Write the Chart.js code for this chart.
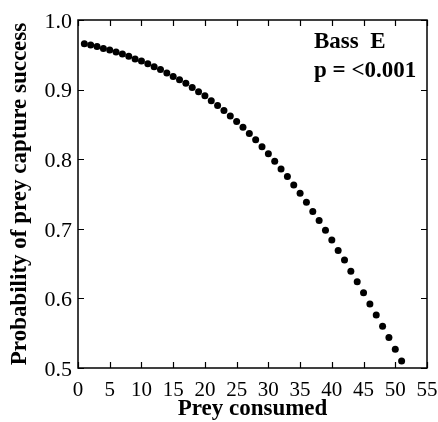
<!DOCTYPE html>
<html><head><meta charset="utf-8">
<script src="https://cdn.jsdelivr.net/npm/chart.js@4/dist/chart.umd.min.js"></script>
<style>html,body{margin:0;padding:0;background:#fff;}#wrap{width:438px;height:422px;}</style>
</head><body><div id="wrap"><canvas id="c" width="438" height="422"></canvas></div>
<script>
const preyConsumed = [1,2,3,4,5,6,7,8,9,10,11,12,13,14,15,16,17,18,19,20,21,22,23,24,25,26,27,28,29,30,31,32,33,34,35,36,37,38,39,40,41,42,43,44,45,46,47,48,49,50,51];
const captureProb = [0.966,0.964,0.962,0.959,0.957,0.954,0.951,0.948,0.944,0.941,0.937,0.933,0.929,0.924,0.919,0.914,0.909,0.903,0.897,0.891,0.884,0.877,0.870,0.862,0.854,0.846,0.837,0.828,0.818,0.808,0.797,0.786,0.775,0.763,0.751,0.738,0.725,0.712,0.698,0.684,0.669,0.655,0.639,0.624,0.608,0.592,0.576,0.560,0.544,0.527,0.510];
const xTicks = [0,5,10,15,20,25,30,35,40,45,50,55];
const yTicks = [0.5,0.6,0.7,0.8,0.9,1.0];
const xTitle = 'Prey consumed';
const yTitle = 'Probability of prey capture success';
const annotationLines = ['Bass  E', 'p = <0.001'];

const SERIF = '"Liberation Serif","Times New Roman",serif';

const frame = {
  id: 'frame',
  afterDatasetsDraw(chart) {
    const {ctx, chartArea: a, scales: {x, y}} = chart;
    ctx.save();
    ctx.strokeStyle = '#000';
    ctx.lineWidth = 1.5;
    ctx.strokeRect(a.left, a.top, a.right - a.left, a.bottom - a.top);
    const L = 6;
    ctx.lineWidth = 1.2;
    ctx.beginPath();
    xTicks.forEach(v => {
      const px = Math.round(x.getPixelForValue(v)) + 0.5;
      ctx.moveTo(px, a.bottom); ctx.lineTo(px, a.bottom - L);
      ctx.moveTo(px, a.top); ctx.lineTo(px, a.top + L);
    });
    yTicks.forEach(v => {
      const py = Math.round(y.getPixelForValue(v)) + 0.5;
      ctx.moveTo(a.left, py); ctx.lineTo(a.left + L, py);
      ctx.moveTo(a.right, py); ctx.lineTo(a.right - L, py);
    });
    ctx.stroke();
    ctx.fillStyle = '#000';
    ctx.font = 'bold 23px ' + SERIF;
    ctx.textAlign = 'left';
    ctx.textBaseline = 'alphabetic';
    ctx.fillText(annotationLines[0], 314, 48);
    ctx.fillText(annotationLines[1], 314, 77);
    ctx.restore();
  }
};

new Chart(document.getElementById('c'), {
  type: 'scatter',
  data: {
    datasets: [{
      data: preyConsumed.map((v, i) => ({x: v, y: captureProb[i]})),
      backgroundColor: '#000',
      borderColor: '#000',
      pointRadius: 3.5,
      pointHoverRadius: 3.5,
      borderWidth: 0
    }]
  },
  options: {
    responsive: false,
    animation: false,
    devicePixelRatio: 1,
    layout: {padding: {top: 20, right: 11, left: 0, bottom: 0}},
    plugins: {legend: {display: false}, tooltip: {enabled: false}},
    scales: {
      x: {
        type: 'linear', min: 0, max: 55,
        afterBuildTicks: s => { s.ticks = xTicks.map(v => ({value: v})); },
        afterFit: s => { s.height = 54; s.paddingLeft = 0; s.paddingRight = 0; },
        grid: {drawOnChartArea: false, drawTicks: false},
        border: {display: false},
        ticks: {color: '#000', font: {family: SERIF, size: 21}, padding: 10, maxRotation: 0, autoSkip: false},
        title: {display: true, text: xTitle, color: '#000', font: {family: SERIF, size: 23, weight: 'bold'}, padding: {top: 0, bottom: -1}}
      },
      y: {
        type: 'linear', min: 0.5, max: 1.0,
        afterBuildTicks: s => { s.ticks = yTicks.map(v => ({value: v})); },
        afterFit: s => { s.width = 78; s.paddingTop = 0; s.paddingBottom = 0; },
        grid: {drawOnChartArea: false, drawTicks: false},
        border: {display: false},
        ticks: {color: '#000', font: {family: SERIF, size: 22}, padding: 6, labelOffset: 2, callback: v => v.toFixed(1)},
        title: {display: true, text: yTitle, color: '#000', font: {family: SERIF, size: 23, weight: 'bold'}, padding: {top: 6, bottom: 0}}
      }
    }
  },
  plugins: [frame]
});
</script></body></html>
